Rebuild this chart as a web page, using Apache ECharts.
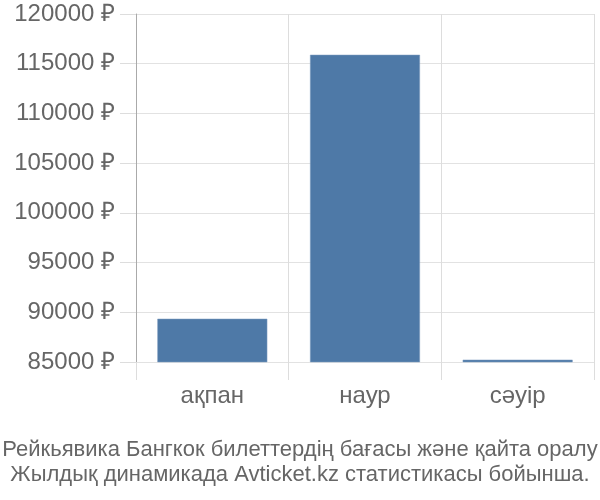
<!DOCTYPE html>
<html>
<head>
<meta charset="utf-8">
<script src="https://cdn.jsdelivr.net/npm/echarts@6/dist/echarts.min.js"></script>
<style>
  html, body { margin: 0; padding: 0; background: #fff; }
  #chart { width: 600px; height: 500px; }
</style>
</head>
<body>
<div id="chart"></div>
<script>
// данные графика
var months = ['ақпан', 'наур', 'сәуір'];
var prices = [89350, 115900, 85230];
var yTicks = [85000, 90000, 95000, 100000, 105000, 110000, 115000, 120000];
var titleLines = [
    'Рейкьявика Бангкок билеттердің бағасы және қайта оралу',
    'Жылдық динамикада Avticket.kz статистикасы бойынша.'
];

var myChart = echarts.init(document.getElementById('chart'));

var option = {
    animation: false,
    textStyle: { fontFamily: 'Liberation Sans, Arial, sans-serif' },
    title: {
        text: titleLines.join('\n'),
        left: 'center',
        top: 432,
        textStyle: {
            color: '#666',
            fontSize: 22,
            fontWeight: 'normal',
            lineHeight: 25,
            fontFamily: 'Liberation Sans, Arial, sans-serif'
        }
    },
    grid: { left: 136, right: 6, top: 14, bottom: 138 },
    xAxis: {
        type: 'category',
        data: months,
        axisLine: { show: false },
        axisTick: { show: true, alignWithLabel: false, length: 18, lineStyle: { color: '#ddd' } },
        splitLine: { show: true, lineStyle: { color: '#ddd', width: 1 } },
        axisLabel: { color: '#666', fontSize: 24, margin: 22 }
    },
    yAxis: {
        type: 'value',
        min: yTicks[0],
        max: yTicks[yTicks.length - 1],
        interval: 5000,
        axisLine: { show: true, lineStyle: { color: '#aaa' } },
        axisTick: { show: true, length: 16, lineStyle: { color: '#ddd' } },
        splitLine: { show: true, lineStyle: { color: '#e2e2e2' } },
        axisLabel: {
            color: '#666',
            fontSize: 24,
            margin: 21,
            formatter: function (v) { return v + ' ₽'; }
        }
    },
    series: [{
        type: 'bar',
        data: prices,
        barWidth: '72%',
        itemStyle: { color: '#4e79a7', borderColor: '#7f9dc0', borderWidth: 0.5 }
    }]
};

myChart.setOption(option);
</script>
</body>
</html>
